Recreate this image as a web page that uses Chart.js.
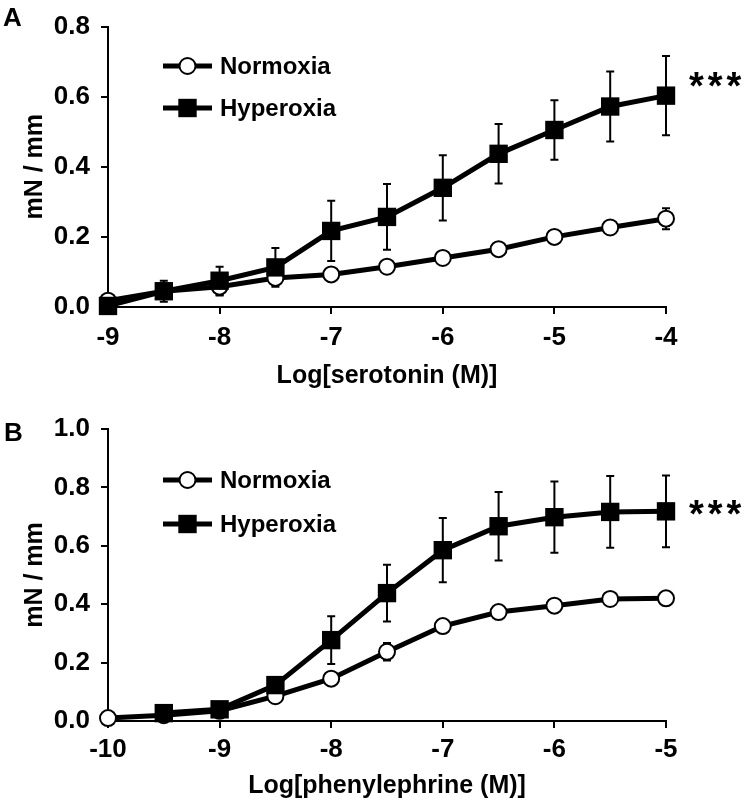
<!DOCTYPE html>
<html>
<head>
<meta charset="utf-8">
<script src="https://cdn.jsdelivr.net/npm/chart.js@4.4.1/dist/chart.umd.min.js"></script>
<style>
  body { margin: 0; background: #fff; }
  #page { position: relative; width: 750px; height: 806px; font-family: "Liberation Sans", Arial, sans-serif; font-weight: bold; color: #000; }
  .panel { position: absolute; left: 0; width: 750px; }
  .panel canvas { display: block; }
  .tag { position: absolute; font-size: 26px; line-height: 26px; }
  .stars { position: absolute; font-size: 38px; line-height: 38px; letter-spacing: 4px; }
</style>
</head>
<body>
<div id="page">
  <div class="panel" style="top:0;height:400px"><canvas id="chartA" width="750" height="400"></canvas></div>
  <div class="panel" style="top:400px;height:406px"><canvas id="chartB" width="750" height="406"></canvas></div>
  <div class="tag" style="left:3px;top:4px">A</div>
  <div class="tag" style="left:4px;top:419px">B</div>
  <div class="stars" style="left:689px;top:67px">***</div>
  <div class="stars" style="left:689px;top:495px">***</div>
</div>
<script>
// Panel A - serotonin
const serotoninDoses = [-9, -8.5, -8, -7.5, -7, -6.5, -6, -5.5, -5, -4.5, -4];
const serotoninNormoxia = [0.018, 0.045, 0.058, 0.083, 0.093, 0.115, 0.14, 0.165, 0.2, 0.227, 0.252];
const serotoninNormoxiaErr = [0.005, 0.01, 0.025, 0.01, 0.01, 0.01, 0.01, 0.01, 0.01, 0.015, 0.03];
const serotoninHyperoxia = [0.003, 0.045, 0.075, 0.113, 0.217, 0.257, 0.34, 0.437, 0.505, 0.572, 0.603];
const serotoninHyperoxiaErr = [0, 0.03, 0.04, 0.055, 0.086, 0.094, 0.093, 0.085, 0.085, 0.1, 0.113];

// Panel B - phenylephrine
const pheDoses = [-10, -9.5, -9, -8.5, -8, -7.5, -7, -6.5, -6, -5.5, -5];
const pheNormoxia = [0.01, 0.02, 0.035, 0.085, 0.145, 0.237, 0.325, 0.373, 0.395, 0.418, 0.42];
const pheNormoxiaErr = [0.005, 0.005, 0.01, 0.01, 0.015, 0.03, 0.015, 0.015, 0.015, 0.015, 0.015];
const pheHyperoxia = [null, 0.027, 0.04, 0.123, 0.277, 0.438, 0.585, 0.667, 0.698, 0.716, 0.718];
const pheHyperoxiaErr = [null, 0.01, 0.01, 0.02, 0.082, 0.097, 0.11, 0.117, 0.122, 0.123, 0.123];

const seriesNames = ["Normoxia", "Hyperoxia"];

Chart.defaults.font.family = "'Liberation Sans', Arial, sans-serif";
Chart.defaults.color = "#000";

// error bars drawn under the lines and markers
const errorBars = {
    id: "errorBars",
    beforeDatasetsDraw(chart) {
        const ctx = chart.ctx;
        const xs = chart.scales.x, ys = chart.scales.y;
        ctx.save();
        ctx.strokeStyle = "#000";
        ctx.lineWidth = 2;
        chart.data.datasets.forEach(ds => {
            ds.data.forEach((p, i) => {
                const e = ds.err[i];
                if (p.y === null || !e) return;
                const px = xs.getPixelForValue(p.x);
                const hi = ys.getPixelForValue(p.y + e);
                const lo = ys.getPixelForValue(p.y - e);
                ctx.beginPath();
                ctx.moveTo(px, hi); ctx.lineTo(px, lo);
                ctx.moveTo(px - 4, hi); ctx.lineTo(px + 4, hi);
                ctx.moveTo(px - 4, lo); ctx.lineTo(px + 4, lo);
                ctx.stroke();
            });
        });
        ctx.restore();
    }
};

// legend inside the plot: line with marker, then the name
const lineLegend = {
    id: "lineLegend",
    afterDraw(chart, args, opts) {
        const ctx = chart.ctx;
        ctx.save();
        chart.data.datasets.forEach((ds, i) => {
            const y = opts.rows[i];
            ctx.strokeStyle = "#000";
            ctx.lineWidth = 5;
            ctx.beginPath();
            ctx.moveTo(opts.x0, y);
            ctx.lineTo(opts.x1, y);
            ctx.stroke();
            ctx.fillStyle = ds.pointBackgroundColor;
            ctx.strokeStyle = ds.pointBorderColor;
            ctx.lineWidth = ds.pointBorderWidth;
            Chart.helpers.drawPoint(ctx, {
                pointStyle: ds.pointStyle,
                radius: ds.pointRadius,
                borderWidth: ds.pointBorderWidth,
                rotation: 0
            }, (opts.x0 + opts.x1) / 2, y);
            ctx.fillStyle = "#000";
            ctx.font = "bold 24px 'Liberation Sans', Arial, sans-serif";
            ctx.textBaseline = "middle";
            ctx.textAlign = "left";
            ctx.fillText(ds.label, opts.textX, y + 1);
        });
        ctx.restore();
    }
};

function toPoints(xs, ys) {
    return xs.map((x, i) => ({ x: x, y: ys[i] }));
}

function makeChart(id, cfg) {
    const ctx = document.getElementById(id).getContext("2d");
    return new Chart(ctx, {
        type: "line",
        data: {
            datasets: [
                {
                    label: seriesNames[0],
                    data: toPoints(cfg.doses, cfg.normoxia),
                    err: cfg.normoxiaErr,
                    borderColor: "#000",
                    borderWidth: 5,
                    pointStyle: "circle",
                    pointRadius: 8,
                    pointBackgroundColor: "#fff",
                    pointBorderColor: "#000",
                    pointBorderWidth: 2,
                    tension: 0,
                    clip: false,
                    order: 2
                },
                {
                    label: seriesNames[1],
                    data: toPoints(cfg.doses, cfg.hyperoxia),
                    err: cfg.hyperoxiaErr,
                    borderColor: "#000",
                    borderWidth: 5,
                    pointStyle: "rect",
                    pointRadius: 13,
                    pointBackgroundColor: "#000",
                    pointBorderColor: "#000",
                    pointBorderWidth: 0,
                    tension: 0,
                    clip: false,
                    order: 1
                }
            ]
        },
        options: {
            responsive: false,
            animation: false,
            devicePixelRatio: 1,
            layout: { padding: { left: 0, top: cfg.top, right: 84, bottom: 0 } },
            plugins: {
                legend: { display: false },
                tooltip: { enabled: false },
                lineLegend: { x0: 163, x1: 212, textX: 220, rows: cfg.legendRows }
            },
            scales: {
                x: {
                    type: "linear",
                    min: cfg.xMin,
                    max: cfg.xMax,
                    border: { display: true, color: "#000", width: 2 },
                    grid: { display: true, drawOnChartArea: false, drawTicks: true, tickLength: 7, color: "#000", lineWidth: 2 },
                    ticks: {
                        stepSize: 1,
                        padding: cfg.xTickPad,
                        maxRotation: 0,
                        autoSkip: false,
                        font: { size: 26, weight: "bold" },
                        color: "#000",
                        callback: v => String(v)
                    },
                    title: {
                        display: true,
                        text: cfg.xTitle,
                        font: { size: 25, weight: "bold" },
                        color: "#000",
                        padding: { top: 0, bottom: cfg.xTitlePad }
                    },
                    afterFit: s => { s.height = cfg.xHeight; }
                },
                y: {
                    min: 0,
                    max: cfg.yMax,
                    border: { display: true, color: "#000", width: 2 },
                    grid: { display: true, drawOnChartArea: false, drawTicks: true, tickLength: 7, color: "#000", lineWidth: 2 },
                    ticks: {
                        stepSize: 0.2,
                        padding: 11,
                        font: { size: 26, weight: "bold" },
                        color: "#000",
                        callback: v => v.toFixed(1)
                    },
                    title: {
                        display: true,
                        text: "mN / mm",
                        font: { size: 25, weight: "bold" },
                        color: "#000",
                        padding: { top: 20, bottom: 0 }
                    },
                    afterFit: s => { s.width = 108; }
                }
            }
        },
        plugins: [errorBars, lineLegend]
    });
}

makeChart("chartA", {
    doses: serotoninDoses,
    normoxia: serotoninNormoxia,
    normoxiaErr: serotoninNormoxiaErr,
    hyperoxia: serotoninHyperoxia,
    hyperoxiaErr: serotoninHyperoxiaErr,
    xMin: -9, xMax: -4, yMax: 0.8,
    xTitle: "Log[serotonin (M)]",
    top: 15, xHeight: 93, xTickPad: 8, xTitlePad: 9,
    legendRows: [66, 108]
});

makeChart("chartB", {
    doses: pheDoses,
    normoxia: pheNormoxia,
    normoxiaErr: pheNormoxiaErr,
    hyperoxia: pheHyperoxia,
    hyperoxiaErr: pheHyperoxiaErr,
    xMin: -10, xMax: -5, yMax: 1.0,
    xTitle: "Log[phenylephrine (M)]",
    top: 29, xHeight: 85, xTickPad: 6, xTitlePad: 5,
    legendRows: [80, 124]
});
</script>
</body>
</html>
